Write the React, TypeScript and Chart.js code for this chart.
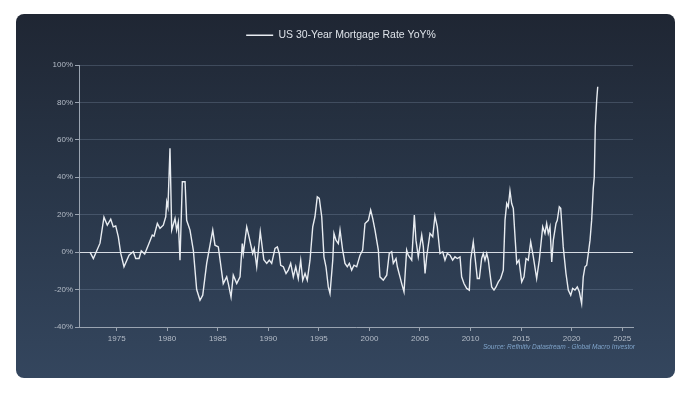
import React, { useEffect, useRef } from "react";
import { Chart, registerables } from "chart.js";

Chart.register(...registerables);

const seriesLabel = "US 30-Year Mortgage Rate YoY%";
const sourceText = "Source: Refinitiv Datastream - Global Macro Investor";

const years = [
  1972.36, 1972.69, 1973.35, 1973.74, 1974.07, 1974.41, 1974.66, 1974.9, 1975.16, 1975.4,
  1975.72, 1976.22, 1976.64, 1976.88, 1977.21, 1977.43, 1977.77, 1978.19, 1978.52, 1978.69,
  1979.02, 1979.28, 1979.61, 1979.85, 1979.95, 1980.07, 1980.27, 1980.44, 1980.77, 1980.93,
  1981.09, 1981.26, 1981.49, 1981.76, 1981.92, 1982.25, 1982.58, 1982.91, 1983.24, 1983.51,
  1983.9, 1984.5, 1984.72, 1985.05, 1985.54, 1985.88, 1986.04, 1986.31, 1986.53, 1986.87,
  1987.2, 1987.42, 1987.52, 1987.86, 1988.09, 1988.45, 1988.61, 1988.85, 1989.2, 1989.55,
  1989.84, 1990.09, 1990.33, 1990.66, 1990.89, 1991.08, 1991.22, 1991.48, 1991.75, 1991.97,
  1992.21, 1992.47, 1992.71, 1992.96, 1993.2, 1993.4, 1993.63, 1993.85, 1994.12, 1994.39,
  1994.61, 1994.84, 1995.04, 1995.28, 1995.5, 1995.7, 1995.93, 1996.1, 1996.37, 1996.49,
  1996.69, 1996.92, 1997.09, 1997.35, 1997.58, 1997.81, 1998.01, 1998.24, 1998.47, 1998.74,
  1999.07, 1999.33, 1999.56, 1999.89, 2000.12, 2000.32, 2000.55, 2000.88, 2001.04, 2001.37,
  2001.71, 2001.96, 2002.2, 2002.36, 2002.63, 2002.76, 2003.02, 2003.19, 2003.42, 2003.68,
  2003.84, 2004.18, 2004.44, 2004.6, 2004.83, 2005.17, 2005.33, 2005.5, 2005.66, 2005.99,
  2006.26, 2006.48, 2006.71, 2006.98, 2007.25, 2007.47, 2007.7, 2007.97, 2008.23, 2008.46,
  2008.69, 2008.96, 2009.12, 2009.35, 2009.62, 2009.88, 2010.01, 2010.27, 2010.44, 2010.67,
  2010.87, 2011.1, 2011.26, 2011.43, 2011.6, 2011.76, 2011.92, 2012.09, 2012.32, 2012.52,
  2012.75, 2012.98, 2013.24, 2013.41, 2013.58, 2013.73, 2013.9, 2014.07, 2014.23, 2014.4,
  2014.57, 2014.79, 2015.06, 2015.29, 2015.49, 2015.71, 2015.95, 2016.21, 2016.54, 2016.8,
  2017.14, 2017.36, 2017.53, 2017.69, 2017.86, 2018.03, 2018.19, 2018.45, 2018.58, 2018.78,
  2018.92, 2019.17, 2019.44, 2019.67, 2019.91, 2020.1, 2020.33, 2020.56, 2020.76, 2020.99,
  2021.15, 2021.32, 2021.49, 2021.65, 2021.82, 2021.98, 2022.14, 2022.24, 2022.34, 2022.48,
  2022.58,
];

const yoyPct = [
  0, -3.4, 4.8, 18.7, 14.4, 17.6, 13.5, 14, 8.2, -0.7,
  -7.8, -1.6, 0.2, -3.4, -3.4, 0.7, -1, 4.6, 9.1, 8.5,
  15.3, 12.7, 14.4, 18.9, 26.9, 24, 55.5, 11.8, 18, 11.8,
  16, -4.3, 37.6, 37.6, 17, 11.8, 1, -20, -25.7, -23,
  -6, 11.8, 3.7, 2.8, -16.8, -13.2, -16.8, -24, -12.3, -16.8,
  -13.2, 4.6, -0.7, 13.5, 8.2, -0.7, 2, -7.8, 10.9, -4,
  -6, -4.3, -6, 2, 2.8, -0.7, -7, -7.8, -11.4, -9.6,
  -6, -13.2, -7.8, -14.1, -4.3, -15, -11.4, -15, -4.3, 13.5,
  18.9, 29.6, 28.7, 18.9, -2.5, -7.8, -18.6, -22.1, -4.3, 10,
  6.4, 4.6, 11.8, 1.1, -6, -7.8, -6, -9.6, -7, -7.8,
  -1.6, 1.1, 15.3, 17, 22.5, 18, 11.8, 1.1, -13.2, -15,
  -12.3, -0.7, 0.2, -6, -3.4, -7.8, -13.2, -16.8, -21.2, 1.1,
  -1.6, -4.3, 19.8, 6.4, -2.5, 9.1, 2.8, -11.4, -2.5, 10,
  8.2, 19.3, 13.5, -0.7, 0.2, -4.3, -0.7, -1.6, -4.3, -2.5,
  -3.4, -2.5, -13.2, -16.8, -19.4, -20.3, -4.3, 5.5, -2.5, -14.1,
  -14.1, -3.4, -0.7, -4.3, -0.7, -4.3, -11.4, -18.6, -20.3, -18.6,
  -15.9, -14.1, -9.6, 17.1, 26, 24.2, 32.8, 26, 23.4, 8.2,
  -6, -4.3, -15.9, -13.2, -3.4, -4.3, 5.5, -2.5, -14.1, -4.3,
  13.5, 10, 15.3, 10, 13.5, -5.2, 6.4, 15.3, 17, 24.2,
  23.4, 2.8, -11.4, -20.3, -23, -19.4, -20.3, -18.6, -21.2, -27.5,
  -13.2, -7.8, -7, -0.7, 6.4, 17.1, 34.1, 40.3, 67, 81.3,
  88.4,
];

const yTickValues = [-40, -20, 0, 20, 40, 60, 80, 100];
const xTickValues = [1975, 1980, 1985, 1990, 1995, 2000, 2005, 2010, 2015, 2020, 2025];

const FONT = "'Liberation Sans', Arial, sans-serif";
const LINE_COLOR = "#e8ecf1";
const AXIS_COLOR = "#9aa4b1";
const GRID_COLOR = "rgba(140,158,182,0.28)";
const ZERO_COLOR = "#d6dbe2";
const TICK_TEXT = "#b4bcc7";

export default function App() {
  const canvasRef = useRef<HTMLCanvasElement | null>(null);

  useEffect(() => {
    document.body.style.margin = "0";
    const canvas = canvasRef.current;
    if (!canvas) return;
    const chart = new Chart(canvas, {
      type: "line",
      data: {
        datasets: [
          {
            label: seriesLabel,
            data: years.map((x, i) => ({ x, y: yoyPct[i] })),
            borderColor: LINE_COLOR,
            backgroundColor: LINE_COLOR,
            borderWidth: 1.4,
            pointRadius: 0,
            tension: 0,
            fill: false,
          },
        ],
      },
      options: {
        responsive: false,
        animation: false,
        layout: { padding: { left: 49, right: 67, top: 20, bottom: 45 } },
        plugins: {
          tooltip: { enabled: false },
          legend: {
            display: true,
            position: "top",
            labels: {
              color: "#dde2e8",
              font: { size: 10.5, family: FONT },
              usePointStyle: true,
              pointStyle: "line",
              pointStyleWidth: 27,
              padding: 10,
            },
          },
          title: {
            display: true,
            text: "",
            weight: 500,
            font: { size: 1 },
            padding: { top: 0, bottom: 13.3 },
          } as any,
        },
        scales: {
          x: {
            type: "linear",
            min: 1971.27,
            max: 2026.07,
            afterBuildTicks: (s: any) => {
              s.ticks = xTickValues.map((v) => ({ value: v }));
            },
            afterFit: (s: any) => {
              s.height = 22;
            },
            ticks: {
              color: TICK_TEXT,
              font: { size: 8, family: FONT },
              maxRotation: 0,
              autoSkip: false,
              padding: 3,
              callback: (v: any) => String(v),
            },
            grid: {
              drawOnChartArea: false,
              drawTicks: true,
              tickLength: 4,
              tickColor: AXIS_COLOR,
            },
            border: { display: true, color: AXIS_COLOR },
          },
          y: {
            type: "linear",
            min: -40,
            max: 100,
            afterBuildTicks: (s: any) => {
              s.ticks = yTickValues.map((v) => ({ value: v }));
            },
            afterFit: (s: any) => {
              s.width = 30;
            },
            ticks: {
              color: TICK_TEXT,
              font: { size: 8, family: FONT },
              padding: 2,
              callback: (v: any) => v + "%",
            },
            grid: {
              color: (ctx: any) =>
                ctx.tick && ctx.tick.value === 0 ? ZERO_COLOR : GRID_COLOR,
              tickColor: AXIS_COLOR,
              tickLength: 4,
              lineWidth: 1,
            },
            border: { display: true, color: AXIS_COLOR },
          },
        },
      },
    });
    return () => chart.destroy();
  }, []);

  return (
    <div
      style={{
        position: "absolute",
        left: 0,
        top: 0,
        width: 700,
        height: 394,
        background: "#ffffff",
        overflow: "hidden",
      }}
    >
      <div
        style={{
          position: "absolute",
          left: 16,
          top: 14,
          width: 659,
          height: 364,
          borderRadius: 8,
          background: "linear-gradient(180deg, #1f2633 0%, #283547 45%, #34465e 100%)",
        }}
      />
      <canvas
        ref={canvasRef}
        width={700}
        height={394}
        style={{ position: "absolute", left: 0, top: 0, width: 700, height: 394 }}
      />
      <div
        style={{
          position: "absolute",
          right: 65,
          top: 343,
          fontFamily: FONT,
          fontStyle: "italic",
          fontSize: 6.5,
          color: "#7fa3c9",
          whiteSpace: "nowrap",
        }}
      >
        {sourceText}
      </div>
    </div>
  );
}
